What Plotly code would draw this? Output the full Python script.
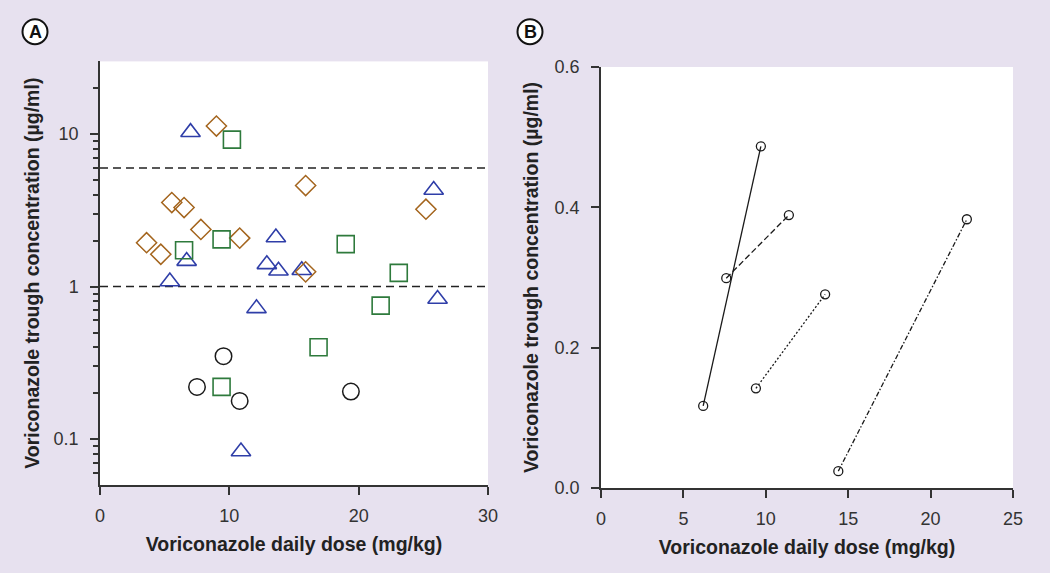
import plotly.graph_objects as go

# ---- Panel A data ----
tri_x = [7.0, 5.4, 6.7, 12.1, 13.6, 12.9, 13.8, 15.6, 25.8, 26.1, 10.9]
tri_y = [10.3, 1.08, 1.47, 0.72, 2.1, 1.4, 1.27, 1.28, 4.3, 0.83, 0.083]
dia_x = [9.0, 15.9, 5.55, 6.5, 7.8, 10.8, 3.6, 4.7, 15.9, 25.2]
dia_y = [11.3, 4.6, 3.56, 3.3, 2.37, 2.08, 1.94, 1.63, 1.25, 3.22]
sq_x = [10.2, 9.4, 6.5, 19.0, 23.1, 21.7, 16.9, 9.4]
sq_y = [9.2, 2.04, 1.73, 1.9, 1.23, 0.75, 0.4, 0.22]
circ_x = [9.55, 7.5, 10.8, 19.4]
circ_y = [0.35, 0.22, 0.178, 0.205]
ref_lines = [1, 6]

# ---- Panel B data (paired measurements) ----
pairs_x = [[6.2, 9.7], [7.6, 11.4], [9.4, 13.6], [14.4, 22.2]]
pairs_y = [[0.117, 0.487], [0.299, 0.389], [0.142, 0.276], [0.024, 0.383]]
pair_dash = ["solid", "6px,3px", "2px,2px", "5px,2px,1.5px,2px"]

BG = "#e7e1ef"
AX = "#333333"
FONT = "Liberation Sans, Arial, sans-serif"
TITLE = "Voriconazole daily dose (mg/kg)"
YTITLE = "Voriconazole trough concentration (µg/ml)"

fig = go.Figure()

for yv in ref_lines:
    fig.add_trace(go.Scatter(x=[0, 30], y=[yv, yv], mode="lines",
                             line=dict(color="#222", width=1.5, dash="8px,5px"),
                             xaxis="x", yaxis="y", showlegend=False, hoverinfo="skip"))

fig.add_trace(go.Scatter(x=tri_x, y=tri_y, mode="markers", xaxis="x", yaxis="y",
                         marker=dict(symbol="triangle-up-open", size=17, color="#2f3ea8",
                                     line=dict(width=1.6, color="#2f3ea8")), showlegend=False))
fig.add_trace(go.Scatter(x=dia_x, y=dia_y, mode="markers", xaxis="x", yaxis="y",
                         marker=dict(symbol="diamond-open", size=15.5, color="#a4651e",
                                     line=dict(width=1.5, color="#a4651e")), showlegend=False))
fig.add_trace(go.Scatter(x=sq_x, y=sq_y, mode="markers", xaxis="x", yaxis="y",
                         marker=dict(symbol="square-open", size=17, color="#2e7a3c",
                                     line=dict(width=1.6, color="#2e7a3c")), showlegend=False))
fig.add_trace(go.Scatter(x=circ_x, y=circ_y, mode="markers", xaxis="x", yaxis="y",
                         marker=dict(symbol="circle-open", size=16.5, color="#1a1a1a",
                                     line=dict(width=1.5, color="#1a1a1a")), showlegend=False))

for px_, py_, d in zip(pairs_x, pairs_y, pair_dash):
    fig.add_trace(go.Scatter(x=px_, y=py_, mode="lines+markers", xaxis="x2", yaxis="y2",
                             line=dict(color="#1a1a1a", width=1.3, dash=d),
                             marker=dict(symbol="circle-open", size=9, color="#1a1a1a",
                                         line=dict(width=1.3, color="#1a1a1a")),
                             showlegend=False))

axis_common = dict(showline=True, linecolor=AX, linewidth=1.5, ticks="outside",
                   ticklen=8, tickwidth=1.5, tickcolor=AX, showgrid=False, zeroline=False,
                   automargin=False,
                   tickfont=dict(family=FONT, size=18, color=AX),
                   title_font=dict(family=FONT, size=19.5, color="#222"))

minor_vals = [0.06, 0.07, 0.08, 0.09, 0.2, 0.3, 0.4, 0.5, 0.6, 0.7, 0.8, 0.9,
              2, 3, 4, 5, 6, 7, 8, 9, 20]

fig.update_layout(
    width=1050, height=573,
    paper_bgcolor=BG, plot_bgcolor="white",
    margin=dict(l=0, r=0, t=0, b=0),
    xaxis=dict(domain=[100/1050, 488/1050], range=[0, 30], tickvals=[0, 10, 20, 30],
               anchor="y", ticklabelstandoff=6,
               title=dict(text="<b>%s</b>" % TITLE, standoff=12), **axis_common),
    yaxis=dict(domain=[1-485/573, 1-61.4/573], type="log", range=[-1.301, 1.477],
               tickvals=[0.1, 1, 10], ticktext=["0.1", "1", "10"], anchor="x",
               ticklabelstandoff=8,
               minor=dict(tickvals=minor_vals, ticks="outside", ticklen=5, tickwidth=1.5,
                          tickcolor=AX, showgrid=False),
               title=dict(text="<b>%s</b>" % YTITLE, standoff=9), **axis_common),
    xaxis2=dict(domain=[601/1050, 1013/1050], range=[0, 25], tickvals=[0, 5, 10, 15, 20, 25],
                anchor="y2", ticklabelstandoff=6,
                title=dict(text="<b>%s</b>" % TITLE, standoff=12), **axis_common),
    yaxis2=dict(domain=[1-488/573, 1-67/573], range=[0, 0.6], tickvals=[0, 0.2, 0.4, 0.6],
                ticktext=["0.0", "0.2", "0.4", "0.6"], anchor="x2", ticklabelstandoff=8,
                title=dict(text="<b>%s</b>" % YTITLE, standoff=11), **axis_common),
    shapes=[
        dict(type="circle", xref="paper", yref="paper",
             x0=(35-12.5)/1050, x1=(35+12.5)/1050, y0=1-(31.7+12.5)/573, y1=1-(31.7-12.5)/573,
             fillcolor="white", line=dict(color="#111", width=2)),
        dict(type="circle", xref="paper", yref="paper",
             x0=(530-12.5)/1050, x1=(530+12.5)/1050, y0=1-(31.7+12.5)/573, y1=1-(31.7-12.5)/573,
             fillcolor="white", line=dict(color="#111", width=2)),
    ],
    annotations=[
        dict(text="<b>A</b>", x=35/1050, y=1-31.7/573, xref="paper", yref="paper",
             showarrow=False, font=dict(family=FONT, size=18, color="#111"),
             xanchor="center", yanchor="middle"),
        dict(text="<b>B</b>", x=530/1050, y=1-31.7/573, xref="paper", yref="paper",
             showarrow=False, font=dict(family=FONT, size=18, color="#111"),
             xanchor="center", yanchor="middle"),
    ],
)

fig.write_html("out.html", config={"displayModeBar": False},
               post_script="document.body.style.margin='0';document.body.style.background='%s';" % BG)
